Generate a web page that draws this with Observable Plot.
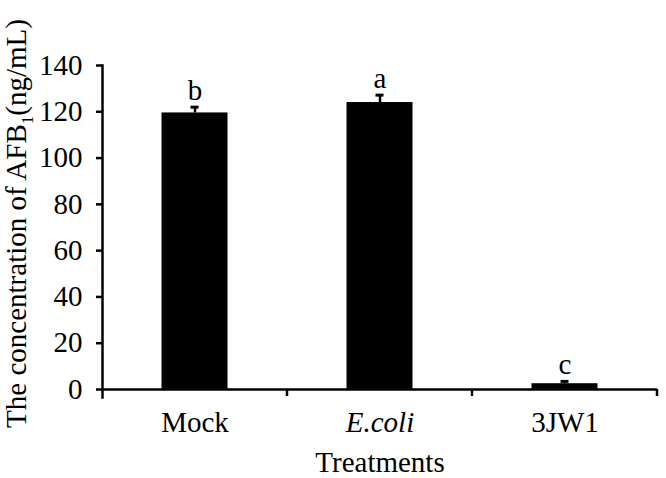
<!DOCTYPE html>
<html><head><meta charset="utf-8">
<script src="https://cdn.jsdelivr.net/npm/d3@7"></script>
<script src="https://cdn.jsdelivr.net/npm/@observablehq/plot@0.6"></script>
<style>body{margin:0;background:#fff} svg{display:block}</style>
</head><body><div id="chart"></div>
<script>
const treatments = ["Mock", "E.coli", "3JW1"];
const concentration = [119.5, 124, 2.5];
const errors = [2.5, 3.2, 1];
const letters = ["b", "a", "c"];
const yTicks = [0, 20, 40, 60, 80, 100, 120, 140];
const yLabel = ["The concentration of AFB", "1", "(ng/mL)"];
const xLabel = "Treatments";

const data = treatments.map((t, i) => ({treatment: t, value: concentration[i], top: concentration[i] + errors[i], letter: letters[i]}));
const font = "'Liberation Serif', 'Times New Roman', serif";

const plot = Plot.plot({
  width: 666, height: 478,
  marginLeft: 102, marginRight: 9, marginTop: 65, marginBottom: 89,
  style: {fontFamily: font, fontSize: "29px", color: "#000", background: "#fff"},
  x: {domain: treatments, padding: 0, label: null},
  y: {domain: [0, 140], label: null},
  marks: [
    Plot.barY(data, {x: "treatment", y: "value", fill: "#000", insetLeft: 59.5, insetRight: 59.5}),
    Plot.ruleX(data, {x: "treatment", y1: "value", y2: "top", strokeWidth: 2.5, stroke: "#000"}),
    Plot.tickY(data, {x: "treatment", y: "top", inset: 88.5, strokeWidth: 3, stroke: "#000"}),
    Plot.text(data, {x: "treatment", y: "top", text: "letter", dy: -7, lineAnchor: "bottom", fontSize: 29, fill: "#000"}),
    Plot.axisY({ticks: yTicks, tickSize: 6, tickPadding: 14, strokeWidth: 2.5, fontSize: 29, label: null}),
    Plot.axisX({tickSize: 0, tickPadding: 22, fontSize: 29, label: null}),
    Plot.text([xLabel], {frameAnchor: "bottom", dy: 82, lineAnchor: "bottom", fontSize: 29, fill: "#000"}),
    Plot.text([yLabel.join("")], {frameAnchor: "left", rotate: -90, dx: -97, dy: -4, lineAnchor: "top", textAnchor: "middle", fontSize: 29, fill: "#000"}),
    Plot.ruleY([0], {strokeWidth: 2.5, stroke: "#000"}),
    Plot.frame({anchor: "left", strokeWidth: 2.5, stroke: "#000", insetBottom: -8})
  ]
});

document.getElementById("chart").appendChild(plot);
const svg = d3.select(plot);

// italic species name
svg.selectAll("text").filter(function() { return this.textContent === "E.coli"; }).attr("font-style", "italic");

// subscript in y label
const yl = svg.selectAll("text").filter(function() { return this.textContent === yLabel.join(""); });
yl.text(null);
yl.append("tspan").text(yLabel[0]);
yl.append("tspan").text(yLabel[1]).attr("font-size", 17).attr("dy", 7);
yl.append("tspan").text(yLabel[2]).attr("dy", -7);

// category boundary ticks on x axis
const xs = plot.scale("x"), ys = plot.scale("y");
const y0 = ys.apply(0);
const g = svg.append("g").attr("stroke", "#000").attr("stroke-width", 2.5);
treatments.forEach(c => {
  const xb = xs.apply(c) + xs.step;
  g.append("line").attr("x1", xb).attr("x2", xb).attr("y1", y0).attr("y2", y0 + 7);
});
</script>
</body></html>
